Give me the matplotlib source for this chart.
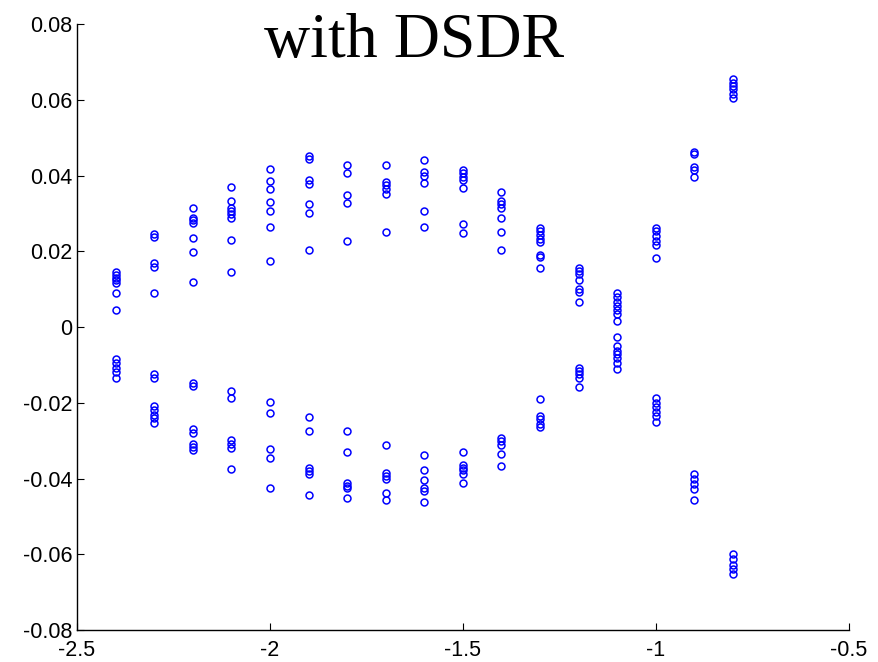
import matplotlib
matplotlib.use('Agg')
import matplotlib.pyplot as plt

# columns of the scatter (real part) and the values in each (imag part)
x_cols = [-2.4, -2.3, -2.2, -2.1, -2.0, -1.9, -1.8, -1.7, -1.6,
          -1.5, -1.4, -1.3, -1.2, -1.1, -1.0, -0.9, -0.8]
y_cols = [
    [0.0145, 0.0137, 0.0130, 0.0123, 0.0116, 0.0090, 0.0044,
     -0.0085, -0.0096, -0.0107, -0.0118, -0.0134],
    [0.0246, 0.0238, 0.0170, 0.0159, 0.0090,
     -0.0123, -0.0134, -0.0209, -0.0220, -0.0231, -0.0241, -0.0253],
    [0.0315, 0.0289, 0.0282, 0.0275, 0.0234, 0.0198, 0.0118,
     -0.0147, -0.0156, -0.0270, -0.0279, -0.0308, -0.0317, -0.0326],
    [0.0371, 0.0333, 0.0315, 0.0306, 0.0298, 0.0289, 0.0230, 0.0146,
     -0.0169, -0.0187, -0.0297, -0.0310, -0.0319, -0.0376],
    [0.0418, 0.0385, 0.0365, 0.0330, 0.0306, 0.0263, 0.0175,
     -0.0198, -0.0228, -0.0323, -0.0345, -0.0424],
    [0.0451, 0.0443, 0.0387, 0.0378, 0.0326, 0.0302, 0.0203,
     -0.0237, -0.0275, -0.0371, -0.0380, -0.0387, -0.0444],
    [0.0428, 0.0407, 0.0348, 0.0327, 0.0226,
     -0.0275, -0.0330, -0.0411, -0.0420, -0.0426, -0.0452],
    [0.0428, 0.0383, 0.0374, 0.0365, 0.0352, 0.0250,
     -0.0312, -0.0385, -0.0393, -0.0402, -0.0437, -0.0457],
    [0.0442, 0.0410, 0.0400, 0.0381, 0.0306, 0.0264,
     -0.0339, -0.0378, -0.0405, -0.0426, -0.0433, -0.0461],
    [0.0414, 0.0406, 0.0397, 0.0387, 0.0366, 0.0271, 0.0249,
     -0.0330, -0.0364, -0.0371, -0.0378, -0.0387, -0.0411],
    [0.0357, 0.0333, 0.0324, 0.0315, 0.0287, 0.0251, 0.0203,
     -0.0293, -0.0302, -0.0312, -0.0335, -0.0367],
    [0.0261, 0.0253, 0.0242, 0.0232, 0.0224, 0.0190, 0.0185, 0.0155,
     -0.0190, -0.0235, -0.0244, -0.0255, -0.0263],
    [0.0157, 0.0149, 0.0140, 0.0123, 0.0100, 0.0093, 0.0067,
     -0.0107, -0.0116, -0.0125, -0.0135, -0.0158],
    [0.0091, 0.0079, 0.0067, 0.0055, 0.0044, 0.0034, 0.0016,
     -0.0026, -0.0050, -0.0062, -0.0072, -0.0083, -0.0094, -0.0112],
    [0.0262, 0.0253, 0.0240, 0.0227, 0.0216, 0.0183,
     -0.0188, -0.0200, -0.0211, -0.0224, -0.0235, -0.0251],
    [0.0461, 0.0456, 0.0423, 0.0415, 0.0396,
     -0.0389, -0.0402, -0.0415, -0.0428, -0.0458],
    [0.0654, 0.0645, 0.0636, 0.0628, 0.0614, 0.0606,
     -0.0600, -0.0613, -0.0627, -0.0640, -0.0653],
]
x_ticks = [-2.5, -2, -1.5, -1, -0.5]
x_labels = ["-2.5", "-2", "-1.5", "-1", "-0.5"]
y_ticks = [-0.08, -0.06, -0.04, -0.02, 0, 0.02, 0.04, 0.06, 0.08]
y_labels = ["-0.08", "-0.06", "-0.04", "-0.02", "0", "0.02", "0.04", "0.06", "0.08"]
title = "with DSDR"

fig = plt.figure(figsize=(8.79, 6.62), dpi=100)
ax = fig.add_axes([0.0876, 0.0483, 0.878, 0.9154])

xs, ys = [], []
for xc, col in zip(x_cols, y_cols):
    xs += [xc] * len(col)
    ys += col
ax.plot(xs, ys, 'o', ms=5.0, mfc='none', mec=(0, 0, 1), mew=1.1, ls='none')

ax.set_xlim(-2.5, -0.5)
ax.set_ylim(-0.08, 0.08)
ax.spines['top'].set_visible(False)
ax.spines['right'].set_visible(False)
for s in ['left', 'bottom']:
    ax.spines[s].set_linewidth(1.0)

tick_font = {'family': 'Liberation Sans', 'size': 15.5}
ax.set_xticks(x_ticks)
ax.set_xticklabels(x_labels, fontdict=tick_font)
ax.set_yticks(y_ticks)
ax.set_yticklabels(y_labels, fontdict=tick_font)
ax.tick_params(direction='in', length=5, width=0.8)
ax.tick_params(axis='x', pad=7.5)
ax.tick_params(axis='y', pad=3.5)

fig.text(0.4716, 0.914, title, ha='center', va='baseline',
         family='Liberation Serif', fontsize=46)

fig.savefig("out.png", dpi=100)
